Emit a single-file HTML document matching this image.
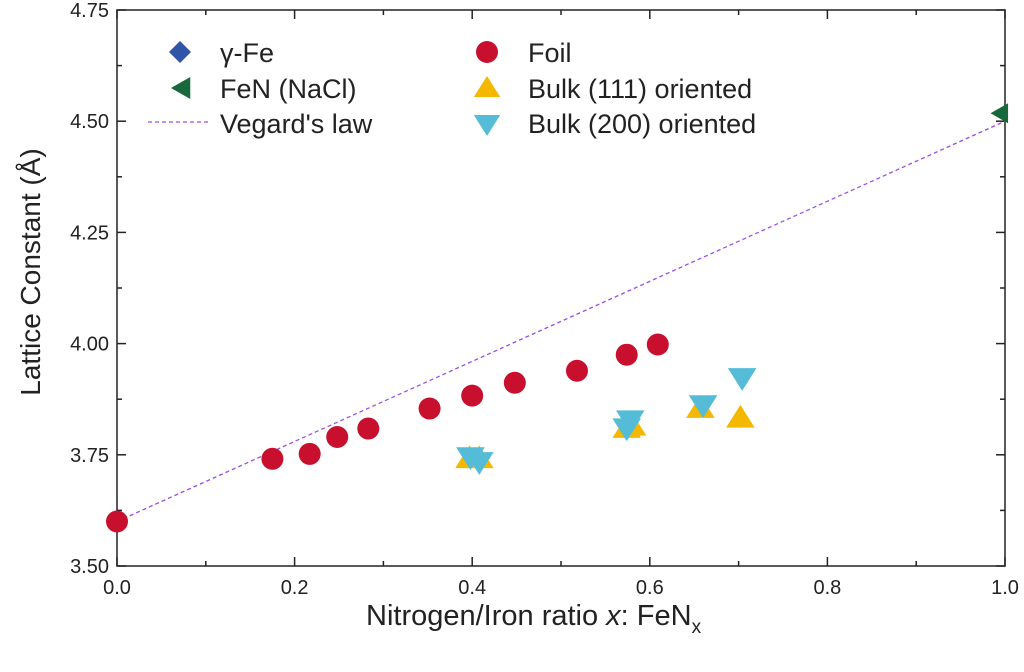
<!DOCTYPE html>
<html><head><meta charset="utf-8"><style>
body{margin:0;background:#fff;font-family:"Liberation Sans",Arial,sans-serif}
svg text{font-family:"Liberation Sans",Arial,sans-serif;fill:#222}
</style></head><body>
<svg id="c" width="1024" height="667"></svg>
<script>
const foilX=[0,0.175,0.217,0.248,0.283,0.352,0.40,0.448,0.518,0.574,0.609];
const foilY=[3.60,3.741,3.752,3.79,3.809,3.854,3.883,3.912,3.939,3.975,3.998];
const b111X=[0.397,0.408,0.574,0.580,0.657,0.702];
const b111Y=[3.742,3.742,3.81,3.815,3.855,3.833];
const b200X=[0.398,0.408,0.574,0.578,0.660,0.704];
const b200Y=[3.745,3.734,3.81,3.828,3.862,3.923];
const feX=[0];const feY=[3.60];
const fenX=[0.995];const fenY=[4.518];
const vegX=[0,1];const vegY=[3.6,4.5];
const xTicks=[0,0.2,0.4,0.6,0.8,1.0];
const xTickLabels=["0.0","0.2","0.4","0.6","0.8","1.0"];
const yTicks=[3.5,3.75,4.0,4.25,4.5,4.75];
const yTickLabels=["3.50","3.75","4.00","4.25","4.50","4.75"];
const L=117,R=1005,T=10,B=566;
const sx=x=>L+(x)*(R-L), sy=v=>B-(v-3.5)/1.25*(B-T);
const svg=document.getElementById('c');const NS='http://www.w3.org/2000/svg';
function mk(t,a,p){const e=document.createElementNS(NS,t);for(const k in a)e.setAttribute(k,a[k]);(p||svg).appendChild(e);return e;}
const box=mk('rect',{x:L,y:T,width:R-L,height:B-T,fill:'none',stroke:'#222','stroke-width':1.5});


xTicks.forEach((t,i)=>{const x=sx(t);
 mk('line',{x1:x,x2:x,y1:B,y2:B-9,stroke:'#222','stroke-width':1.5});mk('line',{x1:x,x2:x,y1:T,y2:T+9,stroke:'#222','stroke-width':1.5});
 if(i<xTicks.length-1){const xm=sx(t+0.1);mk('line',{x1:xm,x2:xm,y1:B,y2:B-5,stroke:'#222','stroke-width':1.5});mk('line',{x1:xm,x2:xm,y1:T,y2:T+5,stroke:'#222','stroke-width':1.5});}
 const tx=mk('text',{x:x,y:B+28,'text-anchor':'middle','font-size':20});tx.textContent=xTickLabels[i];
 
 });
yTicks.forEach((t,i)=>{const y=sy(t);
 mk('line',{x1:L,x2:L+9,y1:y,y2:y,stroke:'#222','stroke-width':1.5});mk('line',{x1:R,x2:R-9,y1:y,y2:y,stroke:'#222','stroke-width':1.5});
 if(i<yTicks.length-1){const ym=sy(t+0.125);mk('line',{x1:L,x2:L+5,y1:ym,y2:ym,stroke:'#222','stroke-width':1.5});mk('line',{x1:R,x2:R-5,y1:ym,y2:ym,stroke:'#222','stroke-width':1.5});}
 const tx=mk('text',{x:L-8,y:y+7,'text-anchor':'end','font-size':20});tx.textContent=yTickLabels[i];
 
 });
const xt=mk('text',{x:366,y:625,'font-size':29});
xt.innerHTML='Nitrogen/Iron ratio <tspan font-style="italic">x</tspan>: FeN<tspan font-size="19" dy="8">x</tspan>';


const yt=mk('text',{x:0,y:0,'text-anchor':'middle','font-size':28,transform:'translate(40,272) rotate(-90)'});
yt.textContent='Lattice Constant (Å)';


const vl=mk('line',{x1:sx(vegX[0]),y1:sy(vegY[0]),x2:sx(vegX[1]),y2:sy(vegY[1]),stroke:'#9b4dea','stroke-width':1.3,'stroke-dasharray':'4,3'});


function diamond(x,y,c,s){return mk('polygon',{points:`${x},${y-s} ${x+s},${y} ${x},${y+s} ${x-s},${y}`,fill:c});}
function tri(x,y,c,s,up){const d=up?1:-1;return mk('polygon',{points:`${x},${y-d*s} ${x+s*1.1},${y+d*s*0.75} ${x-s*1.1},${y+d*s*0.75}`,fill:c});}
function left(x,y,c,s){return mk('polygon',{points:`${x-s},${y} ${x+s*0.75},${y-s} ${x+s*0.75},${y+s}`,fill:c});}
feX.forEach((x,i)=>{const e=diamond(sx(x),sy(feY[i]),'#2f54a8',10);});
b111X.forEach((x,i)=>{const e=tri(sx(x),sy(b111Y[i]),'#f5b800',13,true);});
b200X.forEach((x,i)=>{const e=tri(sx(x),sy(b200Y[i]),'#55bcd8',13,false);});
foilX.forEach((x,i)=>{const e=mk('circle',{cx:sx(x),cy:sy(foilY[i]),r:11,fill:'#c8102e'});});
fenX.forEach((x,i)=>{const e=left(sx(x),sy(fenY[i]),'#17683a',10);});
const lg=mk('g',{});


diamond(180,52,'#2f54a8',11);left(182,88,'#17683a',11);
mk('line',{x1:148,x2:210,y1:122,y2:122,stroke:'#9b4dea','stroke-width':1.3,'stroke-dasharray':'4,3'});
mk('circle',{cx:487,cy:52,r:11,fill:'#c8102e'});tri(487,88,'#f5b800',12,true);tri(487,124,'#55bcd8',12,false);
[['γ-Fe',220,62],['FeN (NaCl)',220,98],["Vegard's law",220,133],['Foil',528,62],['Bulk (111) oriented',528,98],['Bulk (200) oriented',528,133]].forEach(a=>{
 const t=mk('text',{x:a[1],y:a[2],'font-size':27},lg);t.textContent=a[0];
 
 });
</script>
</body></html>
